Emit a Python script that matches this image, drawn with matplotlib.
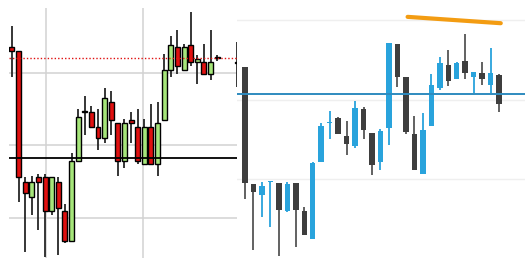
import matplotlib
matplotlib.use("Agg")
import matplotlib.pyplot as plt
import numpy as np

# left chart: red / green candles (last one is cut off at the right edge)
l_x = list(range(32)) + [34]
l_open  = [123.6, 123.1, 105.0, 102.9, 105.6, 105.6, 101.0, 105.0, 101.0, 96.8, 107.9,
           114.6, 114.6, 112.5, 111.0, 116.0, 113.1, 107.9, 113.5, 112.5, 107.5, 112.5,
           107.5, 113.5, 120.4, 123.6, 120.4, 123.9, 121.5, 121.5, 119.9, 122.1, 121.6]
l_high  = [126.5, 123.1, 105.6, 105.8, 106.0, 106.0, 105.6, 105.6, 101.9, 109.0, 115.0,
           116.9, 115.4, 115.0, 118.0, 117.5, 113.1, 113.6, 114.6, 115.0, 113.6, 115.8,
           116.0, 122.6, 125.1, 126.0, 124.0, 128.5, 122.5, 124.0, 126.0, 122.5, 124.3]
l_low   = [119.4, 102.2, 95.3, 100.4, 98.3, 94.6, 100.4, 94.9, 96.5, 96.8, 107.9,
           111.4, 112.5, 109.4, 110.4, 111.4, 105.8, 106.9, 110.4, 107.5, 107.5, 107.5,
           105.8, 113.5, 119.4, 119.9, 120.4, 121.0, 118.5, 119.9, 119.0, 121.7, 118.1]
l_close = [123.1, 105.6, 103.5, 105.0, 105.0, 101.0, 105.6, 101.4, 96.8, 107.9, 114.0,
           114.6, 112.5, 111.0, 116.5, 113.5, 107.9, 113.1, 113.1, 107.9, 112.5, 107.5,
           113.1, 120.4, 123.9, 121.0, 123.6, 121.5, 122.0, 119.9, 121.5, 122.1, 121.4]
l_support = 108.3
l_dotted = 122.1

# right chart: dark / blue candles
r_x = list(range(31))
r_open  = [114.1, 99.4, 98.0, 99.6, 99.5, 96.0, 99.5, 96.0, 92.5, 102.1, 107.0,
           107.7, 105.4, 104.2, 108.8, 105.8, 102.1, 106.4, 117.0, 112.8, 105.7,
           100.6, 106.7, 111.5, 114.3, 112.6, 114.9, 112.8, 113.3, 111.8, 113.1]
r_high  = [114.1, 99.4, 99.6, 99.8, 99.5, 99.6, 99.5, 96.5, 102.1, 107.0, 108.6,
           107.8, 107.3, 109.8, 109.1, 105.8, 106.3, 117.1, 117.0, 112.8, 107.9,
           108.3, 113.2, 115.4, 116.2, 114.7, 118.2, 113.5, 114.7, 116.5, 113.2]
r_low   = [97.5, 91.1, 95.2, 94.0, 90.3, 95.8, 91.5, 93.0, 92.5, 102.1, 105.0,
           105.7, 103.0, 103.9, 105.0, 100.5, 101.1, 104.3, 111.6, 105.7, 101.1,
           100.6, 106.7, 111.2, 111.7, 112.6, 112.6, 110.8, 111.8, 110.8, 108.4]
r_close = [99.5, 98.4, 99.1, 99.6, 96.1, 99.4, 96.1, 93.0, 102.0, 106.7, 107.0,
           105.7, 104.4, 108.9, 106.2, 101.8, 106.0, 117.1, 112.8, 105.9, 101.1,
           106.2, 111.8, 114.6, 112.3, 114.6, 113.3, 113.5, 112.6, 113.3, 109.4]
r_level = 110.7
r_trend_x = [19.2, 30.2]
r_trend_y = [120.4, 119.6]


def candles(ax, x, o, h, l, c, up, down, width, edge, wick_up, wick_down):
    o, h, l, c = map(np.asarray, (o, h, l, c))
    rising = c >= o
    ax.vlines(x, l, h, color=[wick_up if r else wick_down for r in rising],
              lw=1.3, zorder=2)
    cols = [up if r else down for r in rising]
    hgt = np.maximum(np.abs(c - o), 0.12)
    ax.bar(x, hgt, width, bottom=np.minimum(o, c), color=cols,
           edgecolor=edge, linewidth=1.0 if edge != "none" else 0, zorder=3)


fig = plt.figure(figsize=(5.3, 2.65), dpi=100)

# left panel
ax1 = fig.add_axes([9 / 530, 7 / 265, 228 / 530, 250 / 265])
candles(ax1, l_x, l_open, l_high, l_low, l_close, "#a6e67a", "#e01010", 0.75,
        "black", "#262626", "#262626")
ax1.axhline(l_support, color="black", lw=1.3, zorder=4)
ax1.axhline(l_dotted, color="#e01010", lw=1.0, ls=(0, (1, 1.5)), zorder=4)
ax1.set_xlim(-0.45, 34.0)
ax1.set_ylim(94.45, 129.0)
ax1.set_xticks([5.15, 19.85])
ax1.set_yticks([100, 110, 120])
ax1.grid(True, color="#d2d2d2", lw=1.1, zorder=0)
ax1.set_axisbelow(True)
ax1.tick_params(length=0, labelbottom=False, labelleft=False)
for s in ax1.spines.values():
    s.set_visible(False)

# right panel
ax2 = fig.add_axes([237 / 530, 0, 288 / 530, 1])
candles(ax2, r_x, r_open, r_high, r_low, r_close, "#29a3dc", "#3e3e3e", 0.65,
        "none", "#29a3dc", "#555555")
ax2.axhline(r_level, color="#2e8bbf", lw=1.4, zorder=4)
ax2.plot(r_trend_x, r_trend_y, color="#f39c12", lw=3, solid_capstyle="round", zorder=4)
ax2.set_xlim(-0.94, 33.06)
ax2.set_ylim(89.19, 122.52)
ax2.set_xticks([])
ax2.set_yticks([100, 110, 120])
ax2.grid(True, axis="y", color="#efefef", lw=1.0, zorder=0)
ax2.set_axisbelow(True)
ax2.tick_params(length=0, labelbottom=False, labelleft=False)
for s in ax2.spines.values():
    s.set_visible(False)

fig.savefig("out.png", dpi=100, facecolor="white")
